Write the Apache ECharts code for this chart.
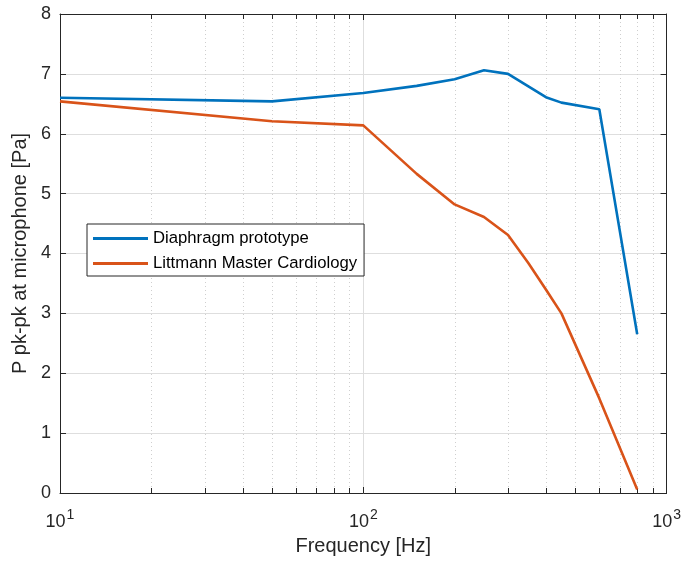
<!DOCTYPE html>
<html>
<head>
<meta charset="utf-8">
<script src="https://cdn.jsdelivr.net/npm/echarts@6/dist/echarts.min.js"></script>
<style>
html,body{margin:0;padding:0;background:#fff;}
#chart{width:684px;height:561px;}
</style>
</head>
<body>
<div id="chart"></div>
<script>
// ---- data ----
const freqBlue = [10, 50, 100, 150, 200, 250, 300, 400, 450, 600, 800];
const valBlue = [6.60, 6.54, 6.68, 6.80, 6.91, 7.06, 7.00, 6.61, 6.52, 6.41, 2.65];
const freqOrange = [10, 50, 100, 150, 200, 250, 300, 350, 400, 450, 600, 800];
const valOrange = [6.54, 6.21, 6.14, 5.33, 4.82, 4.61, 4.31, 3.84, 3.40, 3.00, 1.58, 0.06];
const seriesNames = ['Diaphragm prototype', 'Littmann Master Cardiology'];
const minorTicks = [20, 30, 40, 50, 60, 70, 80, 90, 200, 300, 400, 500, 600, 700, 800, 900];
const xLabel = 'Frequency [Hz]';
const yLabel = 'P pk-pk at microphone [Pa]';

const FONT = "'Liberation Sans', Arial, Helvetica, sans-serif";
const AX = '#262626';
const chart = echarts.init(document.getElementById('chart'), null, {renderer: 'canvas'});

function pairs(xs, ys) { return xs.map((x, i) => [x, ys[i]]); }

const option = {
  animation: false,
  backgroundColor: '#fff',
  textStyle: {fontFamily: FONT},
  grid: {left: 60, right: 15, top: 14, bottom: 68, containLabel: false},
  legend: {
    data: seriesNames,
    orient: 'vertical',
    left: 87, top: 224,
    padding: [6, 7, 4, 6],
    itemGap: 8,
    itemWidth: 55, itemHeight: 3,
    icon: 'rect',
    backgroundColor: '#fff',
    borderColor: AX, borderWidth: 1, borderRadius: 0,
    textStyle: {fontFamily: FONT, fontSize: 16.7, color: '#000', lineHeight: 16}
  },
  xAxis: [{
    type: 'log', logBase: 10, min: 10, max: 1000,
    position: 'bottom',
    name: xLabel, nameLocation: 'middle', nameGap: 43,
    nameTextStyle: {fontFamily: FONT, fontSize: 20, color: AX},
    axisLine: {show: true, onZero: false, lineStyle: {color: AX, width: 1}},
    axisTick: {show: true, inside: true, length: 6, lineStyle: {color: AX}},
    splitLine: {show: true, lineStyle: {color: '#dedede', width: 1}},
    axisLabel: {
      margin: 15, color: AX,
      formatter: v => '{b|10}{s|' + Math.round(Math.log10(v)) + '}',
      rich: {
        b: {fontFamily: FONT, fontSize: 18, color: AX, verticalAlign: 'bottom'},
        s: {fontFamily: FONT, fontSize: 14, color: AX, verticalAlign: 'bottom', padding: [0, 0, 9, 1]}
      }
    }
  }, {
    type: 'log', logBase: 10, min: 10, max: 1000,
    position: 'top',
    axisLine: {show: true, onZero: false, lineStyle: {color: AX, width: 1}},
    axisTick: {show: true, inside: true, length: 6, lineStyle: {color: AX}},
    axisLabel: {show: false},
    splitLine: {show: false}
  }],
  yAxis: [{
    type: 'value', min: 0, max: 8, interval: 1,
    position: 'left',
    name: yLabel, nameLocation: 'middle', nameGap: 24, nameRotate: 90,
    nameTextStyle: {fontFamily: FONT, fontSize: 20, color: AX},
    axisLine: {show: true, onZero: false, lineStyle: {color: AX, width: 1}},
    axisTick: {show: true, inside: true, length: 6, lineStyle: {color: AX}},
    splitLine: {show: true, lineStyle: {color: '#dedede', width: 1}},
    axisLabel: {margin: 9, fontFamily: FONT, fontSize: 18, color: AX}
  }, {
    type: 'value', min: 0, max: 8, interval: 1,
    position: 'right',
    axisLine: {show: true, onZero: false, lineStyle: {color: AX, width: 1}},
    axisTick: {show: true, inside: true, length: 6, lineStyle: {color: AX}},
    axisLabel: {show: false},
    splitLine: {show: false}
  }],
  series: [{
    type: 'custom',
    name: 'minor',
    silent: true,
    z: 1,
    xAxisIndex: 0, yAxisIndex: 0,
    data: minorTicks.map(v => [v, 0]),
    renderItem: function (params, api) {
      const cs = params.coordSys;
      const x = Math.round(api.coord([api.value(0), 0])[0]) + 0.5;
      const top = cs.y, bot = cs.y + cs.height;
      return {
        type: 'group',
        children: [
          {type: 'line', shape: {x1: x, y1: top, x2: x, y2: bot},
           style: {stroke: '#cfcfcf', lineWidth: 1, lineDash: [1, 3]}},
          {type: 'line', shape: {x1: x, y1: bot, x2: x, y2: bot - 5},
           style: {stroke: AX, lineWidth: 1}},
          {type: 'line', shape: {x1: x, y1: top, x2: x, y2: top + 5},
           style: {stroke: AX, lineWidth: 1}}
        ]
      };
    }
  }, {
    name: seriesNames[0],
    type: 'line',
    data: pairs(freqBlue, valBlue),
    showSymbol: false, symbol: 'none',
    lineStyle: {color: '#0072BD', width: 2.6},
    itemStyle: {color: '#0072BD'},
    z: 3
  }, {
    name: seriesNames[1],
    type: 'line',
    data: pairs(freqOrange, valOrange),
    showSymbol: false, symbol: 'none',
    lineStyle: {color: '#D95319', width: 2.6},
    itemStyle: {color: '#D95319'},
    z: 3
  }]
};
chart.setOption(option);
</script>
</body>
</html>
